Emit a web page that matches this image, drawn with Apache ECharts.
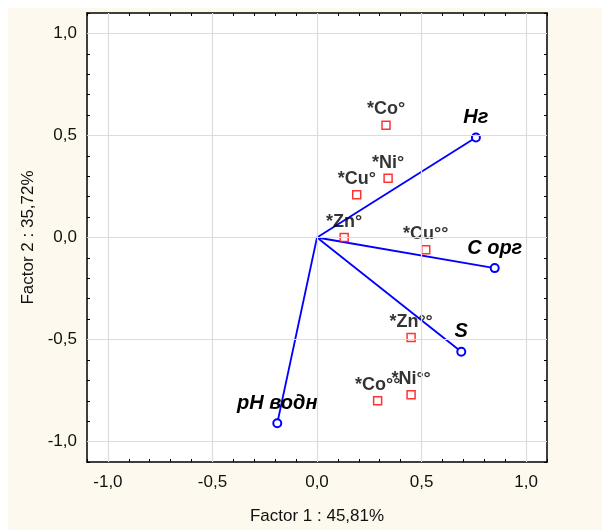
<!DOCTYPE html>
<html>
<head>
<meta charset="utf-8">
<title>Factor plot</title>
<script src="https://cdn.jsdelivr.net/npm/echarts@6/dist/echarts.min.js"></script>
</head>
<body style="margin:0;background:#fff;">
<div id="main" style="width:604px;height:530px;"></div>
<script>
// active variables: loadings drawn as vectors from the origin
const varNames = ['Hг', 'C орг', 'S', 'pH водн']
const varF1 = [0.76, 0.85, 0.69, -0.19]
const varF2 = [0.49, -0.15, -0.56, -0.91]

// supplementary variables (red squares)
const supNames = ['*Co°', '*Ni°', '*Cu°', '*Zn°', '*Cu°°', '*Zn°°', '*Ni°°', '*Co°°']
const supF1 = [0.33, 0.34, 0.19, 0.13, 0.52, 0.45, 0.45, 0.29]
const supF2 = [0.55, 0.29, 0.21, 0.00, -0.06, -0.49, -0.77, -0.80]

const gridTicks = [-1, -0.5, 0, 0.5, 1]
const xTitle = 'Factor 1 : 45,81%'
const yTitle = 'Factor 2 : 35,72%'

const font = 'Liberation Sans, Arial, sans-serif'
const fmt = v => {
  if (Math.abs(v * 2 - Math.round(v * 2)) > 1e-6) return ''
  return v.toFixed(1).replace('.', ',')
}

const axisBase = {
  min: -1.1,
  max: 1.1,
  interval: 0.1,
  axisLine: { show: true, onZero: false, lineStyle: { color: '#000', width: 1.5 } },
  axisTick: { show: true, inside: true, length: 3, lineStyle: { color: '#000' } },
  splitLine: { show: false },
}

let series = []

// grid lines at the labelled ticks
series.push({
  type: 'line',
  data: [],
  silent: true,
  z: 1,
  markLine: {
    silent: true,
    symbol: 'none',
    label: { show: false },
    lineStyle: { color: '#dcdcdc', width: 1.2, type: 'solid' },
    data: gridTicks.map(v => ({ xAxis: v })).concat(gridTicks.map(v => ({ yAxis: v }))),
    animation: false,
  },
})

varNames.forEach((name, i) => {
  series.push({
    type: 'line',
    z: 3,
    data: [
      { value: [0, 0], symbol: 'none', label: { show: false } },
      { value: [varF1[i], varF2[i]], name: name },
    ],
    symbol: 'emptyCircle',
    symbolSize: 8,
    lineStyle: { color: '#0000ff', width: 1.8 },
    itemStyle: { color: '#0000ff', borderWidth: 1.5 },
    label: {
      show: true,
      position: 'top',
      distance: 5,
      formatter: p => p.name,
      color: '#000',
      fontFamily: font,
      fontSize: 20,
      fontWeight: 'bold',
      fontStyle: 'italic',
    },
  })
})

series.push({
  type: 'scatter',
  z: 4,
  data: supNames.map((n, i) => ({ name: n, value: [supF1[i], supF2[i]] })),
  symbol: 'rect',
  symbolSize: 8,
  itemStyle: { color: '#fff', borderColor: '#ff0000', borderWidth: 1.5 },
  label: {
    show: true,
    position: 'top',
    distance: 2,
    formatter: p => p.name,
    color: '#000',
    fontFamily: font,
    fontSize: 18,
    fontWeight: 'bold',
  },
})

const chart = echarts.init(document.getElementById('main'))
chart.setOption({
  animation: false,
  backgroundColor: '#fff',
  graphic: [{
    type: 'rect',
    z: -10,
    shape: { x: 8, y: 8, width: 594, height: 522 },
    style: { fill: '#fef9ee' },
  }, {
    type: 'rect',
    z: -9,
    shape: { x: 87, y: 13, width: 460, height: 450 },
    style: { fill: '#fff' },
  }],
  grid: { left: 87, right: 57, top: 13, bottom: 67 },
  xAxis: [
    Object.assign({}, axisBase, {
      type: 'value',
      position: 'bottom',
      name: xTitle,
      nameLocation: 'middle',
      nameGap: 46,
      nameTextStyle: { color: '#111', fontFamily: font, fontSize: 17 },
      axisLabel: { formatter: fmt, margin: 12, color: '#111', fontFamily: font, fontSize: 17 },
    }),
    Object.assign({}, axisBase, {
      type: 'value',
      position: 'top',
      axisLabel: { show: false },
    }),
  ],
  yAxis: [
    Object.assign({}, axisBase, {
      type: 'value',
      position: 'left',
      name: yTitle,
      nameLocation: 'middle',
      nameGap: 46,
      nameTextStyle: { color: '#111', fontFamily: font, fontSize: 17 },
      axisLabel: { formatter: fmt, margin: 10, color: '#111', fontFamily: font, fontSize: 17 },
    }),
    Object.assign({}, axisBase, {
      type: 'value',
      position: 'right',
      axisLabel: { show: false },
    }),
  ],
  series: series,
})
</script>
</body>
</html>
